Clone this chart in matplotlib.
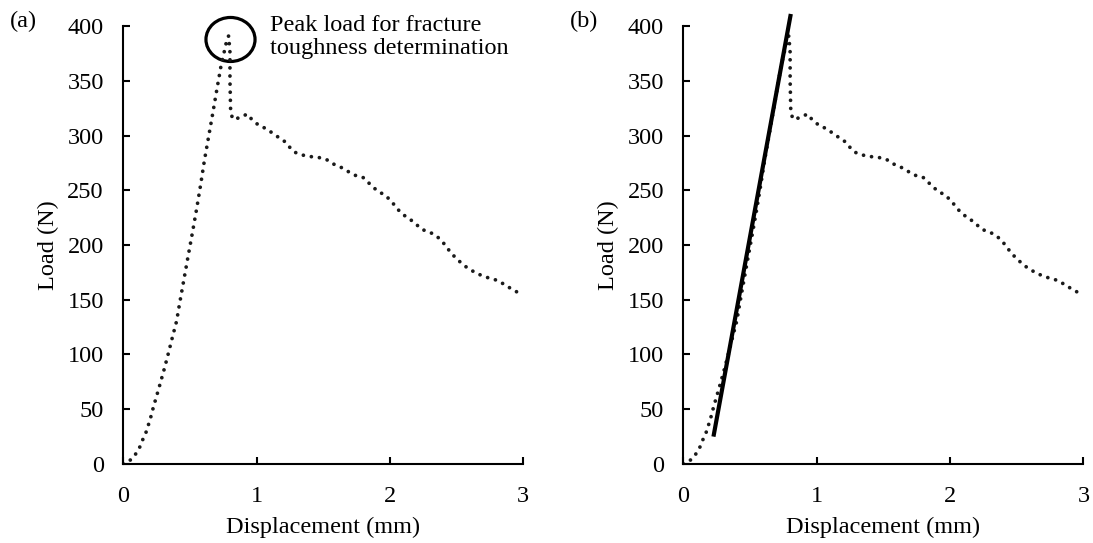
import matplotlib
matplotlib.use("Agg")
import matplotlib.pyplot as plt
from matplotlib.patches import Ellipse
import numpy as np

plt.rcParams['font.family'] = ['Liberation Serif', 'DejaVu Serif']
plt.rcParams['font.size'] = 17.5

###############################################################################

# Load-displacement record (mm, N)
disp = [0.0, 0.0375, 0.07, 0.10, 0.125, 0.145, 0.168, 0.183, 0.20, 0.228,
        0.245, 0.278, 0.31, 0.34, 0.37, 0.40, 0.42, 0.453, 0.485, 0.518,
        0.55, 0.58, 0.608, 0.64, 0.673, 0.703, 0.735, 0.763, 0.775, 0.79,
        0.80, 0.80, 0.805, 0.82, 0.85, 0.877, 0.93, 0.963, 1.013, 1.075,
        1.138, 1.213, 1.25, 1.288, 1.35, 1.413, 1.475, 1.525, 1.563, 1.625,
        1.688, 1.75, 1.80, 1.838, 1.875, 1.913, 1.963, 2.013, 2.063, 2.113,
        2.175, 2.238, 2.30, 2.35, 2.40, 2.45, 2.50, 2.575, 2.65, 2.725,
        2.813, 2.875, 2.94, 3.0]
load = [0.0, 2.0, 5.5, 10.3, 15.8, 22.0, 28.0, 33.8, 40.0, 53.0,
        60.0, 74.0, 88.0, 102.0, 116.6, 130.6, 145.0, 167.4, 189.0, 211.0,
        233.0, 255.0, 277.0, 299.0, 321.7, 343.0, 365.0, 379.6, 386.6, 391.0,
        376.0, 350.0, 322.0, 315.0, 315.5, 316.6, 319.6, 314.8, 309.6, 306.0,
        300.5, 294.3, 289.0, 284.6, 282.0, 280.6, 279.7, 278.0, 274.6, 271.5,
        267.0, 263.0, 261.5, 257.0, 252.7, 248.7, 245.7, 239.5, 232.0, 226.5,
        221.3, 214.3, 211.6, 208.2, 202.0, 194.0, 187.2, 179.6, 174.0, 170.5,
        167.4, 162.5, 158.0, 153.5]

# Linear fit of the loading slope (panel b)
fit_disp = [0.225, 0.805]
fit_load = [25.0, 411.0]

# Peak load marker
peak_disp = 0.804
peak_load = 387.7

###############################################################################

fig = plt.figure(figsize=(10.93, 5.43), dpi=100)
ax_a = fig.add_axes([0.1128, 0.1455, 0.366, 0.8066])
ax_b = fig.add_axes([0.6253, 0.1455, 0.366, 0.8066])


def style_axes(ax):
    ax.plot(disp, load, color='#1a1a1a', lw=2.7, linestyle=(0, (0.01, 2.15)),
            dash_capstyle='round', solid_capstyle='round')
    ax.set_xlim(0, 3)
    ax.set_ylim(0, 400)
    ax.set_xticks([0, 1, 2, 3])
    ax.set_yticks(np.arange(0, 401, 50))
    for side in ['top', 'right']:
        ax.spines[side].set_visible(False)
    for side in ['left', 'bottom']:
        ax.spines[side].set_linewidth(1.5)
    ax.tick_params(direction='in', length=5, width=1.5, labelsize=17.5)
    ax.tick_params(axis='x', pad=16)
    ax.tick_params(axis='y', pad=14)
    ax.set_xlabel('Displacement (mm)', fontsize=17.5)
    ax.set_ylabel('Load (N)', fontsize=17.5)
    ax.xaxis.set_label_coords(0.5, -0.144)
    ax.xaxis.label.set_va('center')
    ax.yaxis.set_label_coords(-0.1875, 0.5)
    ax.yaxis.label.set_va('center')


style_axes(ax_a)
style_axes(ax_b)

# (a) circle the peak load
ax_a.add_patch(Ellipse((peak_disp, peak_load), 0.368, 40.2, fill=False,
                       lw=2.3, color='black', clip_on=False))
ax_a.text(1.10, 390, 'Peak load for fracture\ntoughness determination',
          ha='left', va='center', fontsize=17.5, linespacing=1.12)

# (b) tangent line through the loading part
ax_b.plot(fit_disp, fit_load, color='black', lw=3.0, clip_on=False,
          solid_capstyle='butt')

fig.text(0.0092, 1 - 21 / 543, '(a)', ha='left', va='center', fontsize=17.5)
fig.text(0.5215, 1 - 21 / 543, '(b)', ha='left', va='center', fontsize=17.5)

fig.savefig('out.png', dpi=100)
